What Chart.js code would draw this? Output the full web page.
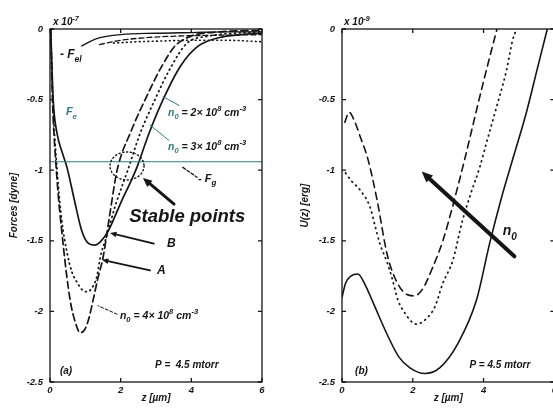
<!DOCTYPE html>
<html>
<head>
<meta charset="utf-8">
<script src="https://cdn.jsdelivr.net/npm/chart.js@4.4.1/dist/chart.umd.min.js"></script>
<style>
  html, body { margin: 0; padding: 0; background: #fff; overflow: hidden; width: 553px; height: 408px; }
  .panel { position: absolute; top: 0; }
  #panelA { left: 0; }
  #panelB { left: 280px; }
</style>
</head>
<body>
<div class="panel" id="panelA"><canvas id="chartA" width="280" height="408"></canvas></div>
<div class="panel" id="panelB"><canvas id="chartB" width="280" height="408"></canvas></div>
<script>
// shared axes
const zTicks = [0, 2, 4, 6];
const yTicks = [0, -0.5, -1, -1.5, -2, -2.5];

// (a) forces, units of 1e-7 dyne, z in micrometres
const aSolidZ = [0.02, 0.09, 0.2, 0.34, 0.48, 0.68, 0.9, 1.1, 1.27, 1.45, 1.65, 1.85, 2.04, 2.25, 2.46, 2.8, 3.2, 3.7, 4.2, 4.8, 5.4, 6];
const aSolidF = [0, -0.5, -0.74, -0.87, -0.98, -1.2, -1.43, -1.52, -1.53, -1.5, -1.43, -1.32, -1.21, -1.1, -0.98, -0.74, -0.5, -0.26, -0.12, -0.06, -0.04, -0.03];
const aDotZ = [0.02, 0.08, 0.2, 0.33, 0.48, 0.62, 0.78, 0.92, 1.05, 1.2, 1.33, 1.42, 1.6, 1.85, 2.2, 2.55, 2.97, 3.4, 3.88, 4.5, 5.2, 6];
const aDotF = [0, -0.5, -1.0, -1.35, -1.58, -1.72, -1.8, -1.85, -1.86, -1.83, -1.75, -1.62, -1.47, -1.25, -1.0, -0.74, -0.5, -0.28, -0.1, -0.05, -0.03, -0.02];
const aDashZ = [0.02, 0.07, 0.18, 0.37, 0.57, 0.72, 0.85, 0.98, 1.1, 1.22, 1.36, 1.5, 1.7, 1.9, 2.3, 2.75, 3.15, 3.54, 4.0, 4.8, 6];
const aDashF = [0, -0.5, -1.0, -1.52, -1.92, -2.08, -2.15, -2.13, -2.05, -1.92, -1.76, -1.62, -1.3, -1.0, -0.72, -0.47, -0.27, -0.12, -0.05, -0.02, -0.01];
// -F_el curves near the top
const elSolidZ = [0.9, 1.3, 2, 3, 4, 5, 6];
const elSolidF = [-0.12, -0.07, -0.04, -0.03, -0.025, -0.02, -0.02];
const elDashZ = [1.4, 2, 2.8, 3.6, 4.5, 6];
const elDashF = [-0.11, -0.08, -0.06, -0.05, -0.045, -0.04];
const elDotZ = [1.8, 2.5, 3.2, 4, 5, 6];
const elDotF = [-0.1, -0.09, -0.085, -0.08, -0.08, -0.09];
// gravity
const fgZ = [0, 6];
const fgF = [-0.94, -0.94];

// (b) potential energy
const bSolidZ = [0, 0.1, 0.25, 0.45, 0.65, 0.9, 1.27, 1.6, 1.92, 2.34, 2.76, 3.27, 3.8, 4.17, 4.5, 4.85, 5.2, 5.5, 5.8];
const bSolidU = [-1.9, -1.8, -1.75, -1.735, -1.81, -1.95, -2.16, -2.32, -2.4, -2.44, -2.4, -2.23, -1.92, -1.52, -1.2, -0.9, -0.6, -0.3, 0];
const bDotZ = [0.1, 0.28, 0.51, 0.79, 0.93, 1.07, 1.27, 1.41, 1.58, 1.72, 2.1, 2.39, 2.62, 2.85, 3.13, 3.4, 3.62, 3.89, 4.1, 4.37, 4.65, 4.82, 4.93];
const bDotU = [-1.02, -1.08, -1.14, -1.26, -1.39, -1.52, -1.65, -1.76, -1.92, -1.99, -2.09, -2.05, -1.97, -1.8, -1.64, -1.36, -1.18, -0.98, -0.79, -0.55, -0.29, -0.08, 0];
const bDashZ = [0.08, 0.2, 0.35, 0.51, 0.73, 0.99, 1.27, 1.49, 1.77, 2.05, 2.28, 2.56, 2.85, 3.1, 3.46, 3.69, 4.03, 4.4];
const bDashU = [-0.66, -0.59, -0.65, -0.76, -0.92, -1.21, -1.59, -1.76, -1.87, -1.89, -1.84, -1.69, -1.5, -1.28, -0.93, -0.69, -0.34, 0.02];

const INK = '#151515';
const TEAL = '#2f7d86';
const FAMILY = '"Liberation Sans", Arial, sans-serif';

function pts(xs, ys) {
    return xs.map((x, i) => ({ x: x, y: ys[i] }));
}

function curve(data, dash, color, width) {
    return {
        data: data,
        showLine: true,
        fill: false,
        pointRadius: 0,
        borderColor: color || INK,
        borderWidth: width || 1.6,
        borderDash: dash || [],
        borderCapStyle: 'round',
        cubicInterpolationMode: 'monotone'
    };
}

function font(size) {
    return 'italic bold ' + size + 'px ' + FAMILY;
}

// text with sub/superscripts: parts = [[text, 'sub'|'sup'|null, color]]
function richText(ctx, x, y, parts, size, color) {
    let cx = x;
    parts.forEach(p => {
        const s = p[1] ? size * 0.72 : size;
        const dy = p[1] === 'sub' ? size * 0.32 : (p[1] === 'sup' ? -size * 0.45 : 0);
        ctx.font = font(s);
        ctx.fillStyle = p[2] || color || INK;
        ctx.textAlign = 'left';
        ctx.textBaseline = 'alphabetic';
        ctx.fillText(p[0], cx, y + dy);
        cx += ctx.measureText(p[0]).width;
    });
}

function arrow(ctx, x1, y1, x2, y2, w, head, color) {
    const a = Math.atan2(y2 - y1, x2 - x1);
    ctx.strokeStyle = color;
    ctx.fillStyle = color;
    ctx.lineWidth = w;
    ctx.lineCap = 'round';
    ctx.setLineDash([]);
    ctx.beginPath();
    ctx.moveTo(x1, y1);
    ctx.lineTo(x2 - Math.cos(a) * head * 0.7, y2 - Math.sin(a) * head * 0.7);
    ctx.stroke();
    if (head > 0) {
        ctx.beginPath();
        ctx.moveTo(x2, y2);
        ctx.lineTo(x2 - head * Math.cos(a - 0.42), y2 - head * Math.sin(a - 0.42));
        ctx.lineTo(x2 - head * Math.cos(a + 0.42), y2 - head * Math.sin(a + 0.42));
        ctx.closePath();
        ctx.fill();
    }
}

// frame, inward ticks, labels and arrows
const decor = {
    id: 'decor',
    afterDraw(chart, args, opts) {
        const ctx = chart.ctx;
        const area = chart.chartArea;
        const sx = chart.scales.x, sy = chart.scales.y;
        ctx.save();
        ctx.strokeStyle = INK;
        ctx.lineWidth = 1.3;
        ctx.setLineDash([]);
        ctx.strokeRect(area.left, area.top, area.right - area.left, area.bottom - area.top);
        ctx.beginPath();
        zTicks.forEach(v => {
            const px = sx.getPixelForValue(v);
            ctx.moveTo(px, area.bottom); ctx.lineTo(px, area.bottom - 4);
            ctx.moveTo(px, area.top); ctx.lineTo(px, area.top + 4);
        });
        yTicks.forEach(v => {
            const py = sy.getPixelForValue(v);
            ctx.moveTo(area.left, py); ctx.lineTo(area.left + 4, py);
            ctx.moveTo(area.right, py); ctx.lineTo(area.right - 4, py);
        });
        ctx.stroke();

        (opts.ellipses || []).forEach(e => {
            ctx.strokeStyle = INK;
            ctx.lineWidth = 1.4;
            ctx.setLineDash([1.2, 2.6]);
            ctx.lineCap = 'round';
            ctx.beginPath();
            ctx.ellipse(sx.getPixelForValue(e.at[0]), sy.getPixelForValue(e.at[1]), e.rx, e.ry, 0, 0, Math.PI * 2);
            ctx.stroke();
        });
        (opts.arrows || []).forEach(a => {
            const x1 = sx.getPixelForValue(a.from[0]), y1 = sy.getPixelForValue(a.from[1]);
            const x2 = sx.getPixelForValue(a.to[0]), y2 = sy.getPixelForValue(a.to[1]);
            if (a.dash) {
                ctx.strokeStyle = a.color || INK;
                ctx.lineWidth = a.width;
                ctx.setLineDash(a.dash);
                ctx.beginPath(); ctx.moveTo(x1, y1); ctx.lineTo(x2, y2); ctx.stroke();
            } else {
                arrow(ctx, x1, y1, x2, y2, a.width, a.head, a.color || INK);
            }
        });
        (opts.labels || []).forEach(l => {
            richText(ctx, sx.getPixelForValue(l.at[0]), sy.getPixelForValue(l.at[1]), l.parts, l.size, l.color);
        });
        ctx.restore();
    }
};

function axes(yTitle, yWidth, yTitlePad) {
    const tickFont = { family: FAMILY, size: 9.5, style: 'italic', weight: 'bold' };
    const titleFont = { family: FAMILY, size: 10, style: 'italic', weight: 'bold' };
    return {
        x: {
            type: 'linear', min: 0, max: 6,
            afterBuildTicks: s => { s.ticks = zTicks.map(v => ({ value: v })); },
            afterFit: s => { s.height = 26; },
            ticks: { font: tickFont, color: INK, padding: 3, maxRotation: 0, autoSkip: false, callback: v => String(v) },
            grid: { display: false, drawTicks: false },
            border: { display: false },
            title: { display: true, text: 'z [µm]', font: titleFont, color: INK, padding: { top: 0, bottom: 4 } }
        },
        y: {
            type: 'linear', min: -2.5, max: 0,
            afterBuildTicks: s => { s.ticks = yTicks.map(v => ({ value: v })); },
            afterFit: s => { s.width = yWidth; },
            ticks: { font: tickFont, color: INK, padding: 7, autoSkip: false, callback: v => String(v) },
            grid: { display: false, drawTicks: false },
            border: { display: false },
            title: { display: true, text: yTitle, font: titleFont, color: INK, padding: { top: yTitlePad, bottom: 0 } }
        }
    };
}

const commonPlugins = { legend: { display: false }, tooltip: { enabled: false } };

new Chart(document.getElementById('chartA'), {
    type: 'scatter',
    data: {
        datasets: [
            curve(pts(fgZ, fgF), [], TEAL, 1.2),
            curve(pts(elSolidZ, elSolidF), [], INK, 1.3),
            curve(pts(elDashZ, elDashF), [5, 3], INK, 1.3),
            curve(pts(elDotZ, elDotF), [0.8, 3.5], INK, 1.6),
            curve(pts(aSolidZ, aSolidF), [], INK, 1.7),
            curve(pts(aDotZ, aDotF), [0.8, 4], INK, 1.8),
            curve(pts(aDashZ, aDashF), [7, 4], INK, 1.7)
        ]
    },
    options: {
        responsive: false,
        animation: false,
        layout: { padding: { top: 29, right: 18, bottom: 0, left: 0 } },
        scales: axes('Forces [dyne]', 50, 8),
        plugins: Object.assign({}, commonPlugins, {
            decor: {
                ellipses: [{ at: [2.18, -0.97], rx: 17, ry: 14 }],
                arrows: [
                    { from: [3.2, -0.48], to: [3.65, -0.54], width: 1, head: 0, color: TEAL },
                    { from: [2.83, -0.68], to: [3.37, -0.79], width: 1, head: 0, color: TEAL },
                    { from: [3.76, -0.98], to: [4.16, -1.05], width: 1.3, dash: [3, 2] },
                    { from: [3.51, -1.24], to: [2.63, -1.055], width: 3, head: 10 },
                    { from: [2.94, -1.52], to: [1.7, -1.445], width: 1.8, head: 7 },
                    { from: [2.83, -1.71], to: [1.47, -1.635], width: 1.8, head: 7 },
                    { from: [1.9, -2.02], to: [1.36, -1.96], width: 1, dash: [3, 2] }
                ],
                labels: [
                    { at: [0.085, 0.028], parts: [['x 10'], ['-7', 'sup']], size: 10 },
                    { at: [0.28, -0.205], parts: [['- F'], ['el', 'sub']], size: 12 },
                    { at: [0.45, -0.61], parts: [['F'], ['e', 'sub']], size: 11, color: TEAL },
                    { at: [3.34, -0.616], parts: [['n', null, TEAL], ['0', 'sub', TEAL], [' = 2× 10'], ['8', 'sup'], [' cm'], ['-3', 'sup']], size: 10.5 },
                    { at: [3.34, -0.857], parts: [['n', null, TEAL], ['0', 'sub', TEAL], [' = 3× 10'], ['8', 'sup'], [' cm'], ['-3', 'sup']], size: 10.5 },
                    { at: [4.19, -1.083], parts: [['- F'], ['g', 'sub']], size: 11 },
                    { at: [2.24, -1.367], parts: [['Stable points']], size: 18.5 },
                    { at: [3.31, -1.544], parts: [['B']], size: 12 },
                    { at: [3.03, -1.735], parts: [['A']], size: 12 },
                    { at: [1.98, -2.054], parts: [['n'], ['0', 'sub'], [' = 4× 10'], ['8', 'sup'], [' cm'], ['-3', 'sup']], size: 10.5 },
                    { at: [0.28, -2.443], parts: [['(a)']], size: 10 },
                    { at: [2.97, -2.40], parts: [['P =  4.5 mtorr']], size: 10 }
                ]
            }
        })
    },
    plugins: [decor]
});

new Chart(document.getElementById('chartB'), {
    type: 'scatter',
    data: {
        datasets: [
            curve(pts(bSolidZ, bSolidU), [], INK, 1.6),
            curve(pts(bDotZ, bDotU), [0.8, 4.5], INK, 1.8),
            curve(pts(bDashZ, bDashU), [7, 5], INK, 1.6)
        ]
    },
    options: {
        responsive: false,
        animation: false,
        layout: { padding: { top: 29, right: 5, bottom: 0, left: 0 } },
        scales: axes('U(z) [erg]', 62, 19),
        plugins: Object.assign({}, commonPlugins, {
            decor: {
                arrows: [
                    { from: [4.87, -1.61], to: [2.25, -1.01], width: 4, head: 12 }
                ],
                labels: [
                    { at: [0.056, 0.028], parts: [['x 10'], ['-9', 'sup']], size: 10 },
                    { at: [4.54, -1.46], parts: [['n'], ['0', 'sub']], size: 14 },
                    { at: [0.37, -2.443], parts: [['(b)']], size: 10 },
                    { at: [3.6, -2.40], parts: [['P = 4.5 mtorr']], size: 10 }
                ]
            }
        })
    },
    plugins: [decor]
});
</script>
</body>
</html>
